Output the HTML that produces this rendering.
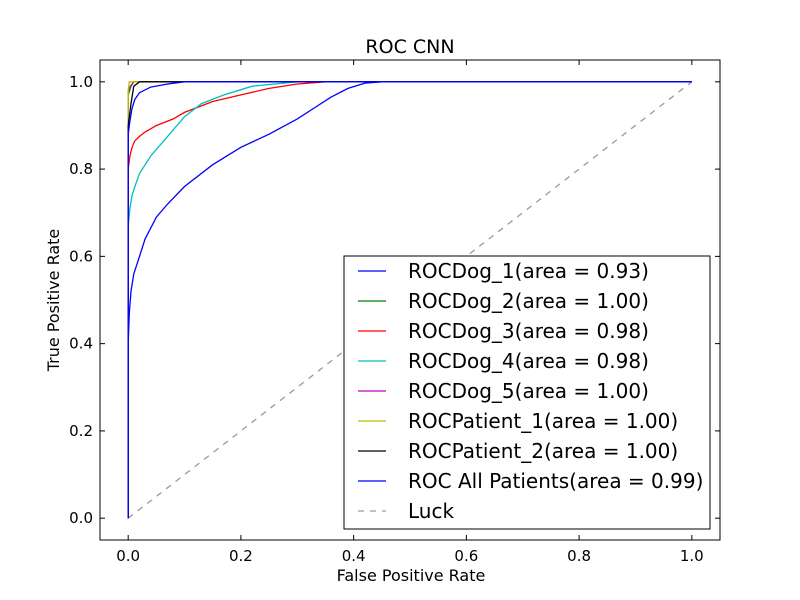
<!DOCTYPE html>
<html><head><meta charset="utf-8"><style>
body{margin:0;background:#fff;}
svg{display:block;font-family:"DejaVu Sans","Liberation Sans",sans-serif;}
</style></head><body>
<svg id="chart" width="800" height="600">
<rect width="800" height="600" fill="#fff"/>
<g id="plot"></g>
</svg>
<script>
const xTicks=[0.0,0.2,0.4,0.6,0.8,1.0];
const yTicks=[0.0,0.2,0.4,0.6,0.8,1.0];
const tickLabels=["0.0","0.2","0.4","0.6","0.8","1.0"];
const seriesNames=["ROCDog_1(area = 0.93)","ROCDog_2(area = 1.00)","ROCDog_3(area = 0.98)","ROCDog_4(area = 0.98)","ROCDog_5(area = 1.00)","ROCPatient_1(area = 1.00)","ROCPatient_2(area = 1.00)","ROC All Patients(area = 0.99)","Luck"];
const seriesColors=["#0000ff","#008000","#ff0000","#00bfbf","#bf00bf","#bfbf00","#000000","#0000ff","#999999"];
const dog1Fpr=[0,0,0.002,0.005,0.01,0.02,0.03,0.05,0.07,0.1,0.15,0.2,0.25,0.3,0.33,0.36,0.39,0.42,0.45,1];
const dog1Tpr=[0,0.4,0.47,0.52,0.56,0.6,0.64,0.69,0.72,0.76,0.81,0.85,0.88,0.915,0.94,0.965,0.985,0.997,1,1];
const dog2Fpr=[0,0,0.005,0.01,1];
const dog2Tpr=[0,0.97,0.99,1,1];
const dog3Fpr=[0,0,0.003,0.007,0.012,0.02,0.03,0.05,0.08,0.1,0.15,0.2,0.25,0.3,0.35,1];
const dog3Tpr=[0,0.8,0.83,0.85,0.865,0.875,0.885,0.9,0.915,0.93,0.955,0.97,0.985,0.995,1,1];
const dog4Fpr=[0,0,0.003,0.007,0.012,0.02,0.04,0.06,0.08,0.1,0.13,0.17,0.22,0.3,1];
const dog4Tpr=[0,0.67,0.71,0.74,0.76,0.79,0.83,0.86,0.89,0.92,0.95,0.97,0.99,1,1];
const dog5Fpr=[0,0,0.004,0.01,1];
const dog5Tpr=[0,0.98,0.99,1,1];
const pat1Fpr=[0,0,0.002,1];
const pat1Tpr=[0,0.98,1,1];
const pat2Fpr=[0,0,0.005,0.01,0.02,1];
const pat2Tpr=[0,0.9,0.95,0.99,1,1];
const allFpr=[0,0,0.003,0.007,0.012,0.02,0.04,0.07,0.1,1];
const allTpr=[0,0.88,0.91,0.94,0.96,0.975,0.988,0.995,1,1];
const luckFpr=[0,1];
const luckTpr=[0,1];
const seriesX=[dog1Fpr,dog2Fpr,dog3Fpr,dog4Fpr,dog5Fpr,pat1Fpr,pat2Fpr,allFpr,luckFpr];
const seriesY=[dog1Tpr,dog2Tpr,dog3Tpr,dog4Tpr,dog5Tpr,pat1Tpr,pat2Tpr,allTpr,luckTpr];

const L=100,R=720,T=60,B=540;
const sx=v=>L+(v+0.05)/1.1*(R-L);
const sy=v=>B-(v+0.05)/1.1*(B-T);
const NS="http://www.w3.org/2000/svg";
const g=document.getElementById('plot');
function mk(tag,attrs,parent){const e=document.createElementNS(NS,tag);for(const k in attrs)e.setAttribute(k,attrs[k]);(parent||g).appendChild(e);return e;}

const order=[8,0,1,2,3,4,5,6,7];
order.forEach(i=>{
  const d=seriesX[i].map((x,j)=>(j?'L':'M')+sx(x).toFixed(1)+','+sy(seriesY[i][j]).toFixed(1)).join(' ');
  const p=mk('path',{d:d,fill:'none',stroke:seriesColors[i],'stroke-width':1.3});
  if(i===8)p.setAttribute('stroke-dasharray','6,6');
  
  
});

const fr=mk('rect',{x:L,y:T,width:R-L,height:B-T,fill:'none',stroke:'#000','stroke-width':1});



xTicks.forEach((v,i)=>{
  const x=sx(v);
  mk('line',{x1:x,x2:x,y1:B,y2:B-5,stroke:'#000'});
  mk('line',{x1:x,x2:x,y1:T,y2:T+5,stroke:'#000'});
  const t=mk('text',{x:x,y:B+21,'text-anchor':'middle','font-size':15});
  t.textContent=tickLabels[i];
  
  
});
yTicks.forEach((v,i)=>{
  const y=sy(v);
  mk('line',{x1:L,x2:L+5,y1:y,y2:y,stroke:'#000'});
  mk('line',{x1:R,x2:R-5,y1:y,y2:y,stroke:'#000'});
  const t=mk('text',{x:L-7,y:y+5,'text-anchor':'end','font-size':15});
  t.textContent=tickLabels[i];
  
  
});

const title=mk('text',{x:410,y:53,'text-anchor':'middle','font-size':19});
title.textContent='ROC CNN';


const xl=mk('text',{x:411,y:581,'text-anchor':'middle','font-size':16});
xl.textContent='False Positive Rate';


const yl=mk('text',{x:0,y:0,'text-anchor':'middle','font-size':16,transform:'translate(59,300) rotate(-90)'});
yl.textContent='True Positive Rate';



const lg=mk('rect',{x:344,y:256,width:366,height:273,fill:'#fff',stroke:'#000','stroke-width':1});


seriesNames.forEach((n,i)=>{
  const y=271+i*30;
  const ln=mk('line',{x1:358,x2:386,y1:y,y2:y,stroke:seriesColors[i],'stroke-width':1.3});
  if(i===8)ln.setAttribute('stroke-dasharray','6,6');
  
  
  const t=mk('text',{x:408,y:y+7,'font-size':20});
  t.textContent=n;
  
  
});
</script>
</body></html>
